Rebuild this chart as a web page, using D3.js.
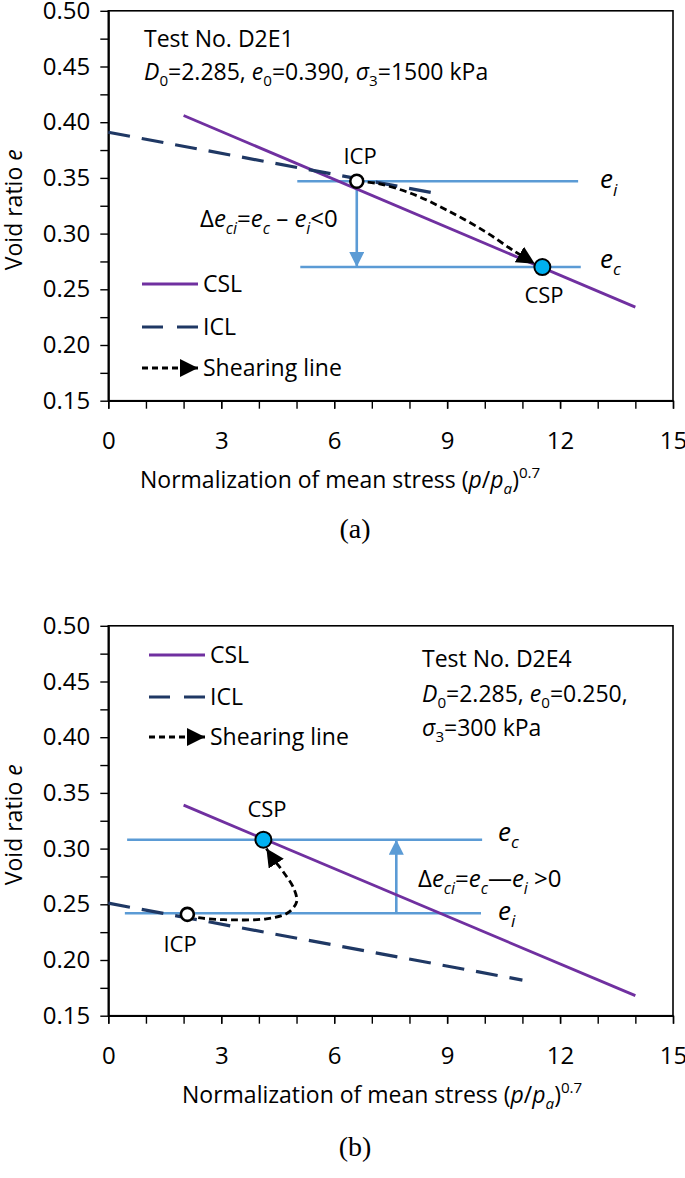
<!DOCTYPE html>
<html><head><meta charset="utf-8">
<script src="https://cdn.jsdelivr.net/npm/d3@7"></script>
<style>
body{margin:0;background:#fff}
text{font-family:"Open Sans",sans-serif;fill:#000}
</style></head><body>
<svg id="c" width="685" height="1178"></svg>
<script>
// ---------- data ----------
const xMajorTicks = [0, 3, 6, 9, 12, 15];
const xMinorTicks = d3.range(0, 16, 1);
const yMajorTicks = [0.15, 0.20, 0.25, 0.30, 0.35, 0.40, 0.45, 0.50];
const yMinorTicks = [0.175, 0.225, 0.275, 0.325, 0.375, 0.425, 0.475];

// panel (a)
const cslA = [[2.0, 0.406], [14.0, 0.234]];
const iclA = [[0.0, 0.391], [8.72, 0.336]];
const shearA = [[6.6, 0.347], [7.15, 0.345], [8.05, 0.336], [9.0, 0.321], [10.0, 0.302], [10.75, 0.285], [11.33, 0.273]];
const icpA = [6.6, 0.347];
const cspA = [11.53, 0.270];
const eiLineA = [5.02, 12.48, 0.347];
const ecLineA = [5.1, 12.55, 0.270];
const arrowA = [6.6, 0.347, 0.270];

// panel (b)
const cslB = [[2.0, 0.339], [14.0, 0.168]];
const iclB = [[0.0, 0.251], [11.0, 0.182]];
const shearB = [[2.1, 0.240], [2.5, 0.2375], [3.3, 0.236], [4.2, 0.237], [4.75, 0.242], [5.0, 0.252], [4.93, 0.264], [4.65, 0.279], [4.4, 0.290], [4.2, 0.300]];
const icpB = [2.1, 0.241];
const cspB = [4.12, 0.308];
const eiLineB = [0.44, 9.9, 0.242];
const ecLineB = [0.5, 9.93, 0.308];
const arrowB = [7.65, 0.242, 0.308];

// ---------- styles ----------
const C_CSL = "#7030A0", C_ICL = "#1F3864", C_E = "#5B9BD5", C_CSP = "#00B0F0";
const svg = d3.select("#c");
const defs = svg.append("defs");
function marker(id, color, w, h) {
  defs.append("marker").attr("id", id).attr("viewBox", "0 0 10 10")
    .attr("refX", 10).attr("refY", 5).attr("markerUnits", "userSpaceOnUse")
    .attr("markerWidth", w).attr("markerHeight", h).attr("orient", "auto")
    .append("path").attr("d", "M0,0L10,5L0,10Z").attr("fill", color);
}
marker("blk", "#000", 18, 18);
marker("blu", C_E, 18, 15);

function rich(g, x, y, parts, size, anchor) {
  const t = g.append("text").attr("x", x).attr("y", y).style("font-size", size + "px");
  if (anchor) t.attr("text-anchor", anchor);
  let shift = 0;
  parts.forEach(p => {
    const target = p.sub ? size * 0.28 : p.sup ? -size * 0.42 : 0;
    const ts = t.append("tspan").attr("dy", target - shift).text(p.t);
    shift = target;
    if (p.sub || p.sup) ts.style("font-size", (size * 0.66) + "px");
    if (p.i) ts.style("font-style", "italic");
  });
  return t;
}

function panel(top, d) {
  const L = 108.3, R = 673, T = top, B = top + 389.9;
  const x = d3.scaleLinear().domain([0, 15]).range([L, R]);
  const y = d3.scaleLinear().domain([0.15, 0.50]).range([B, T]);
  const g = svg.append("g");
  // frame
  g.append("rect").attr("x", L).attr("y", T).attr("width", R - L).attr("height", B - T)
    .attr("fill", "none").attr("stroke", "#000").attr("stroke-width", 1.6);
  // axes
  const ax = g.append("g").attr("transform", `translate(0,${B})`)
    .call(d3.axisBottom(x).tickValues(xMinorTicks).tickFormat("").tickSize(8).tickSizeOuter(0));
  const axM = g.append("g").attr("transform", `translate(0,${B})`)
    .call(d3.axisBottom(x).tickValues(xMajorTicks).tickFormat(d3.format("d")).tickSize(8).tickPadding(23).tickSizeOuter(0));
  const ay = g.append("g").attr("transform", `translate(${L},0)`)
    .call(d3.axisLeft(y).tickValues(yMinorTicks).tickFormat("").tickSize(8).tickSizeOuter(0));
  const ayM = g.append("g").attr("transform", `translate(${L},0)`)
    .call(d3.axisLeft(y).tickValues(yMajorTicks).tickFormat(d3.format(".2f")).tickSize(8).tickPadding(10).tickSizeOuter(0));
  [ax, axM, ay, ayM].forEach(a => {
    a.selectAll("path").attr("stroke", "#000").attr("stroke-width", 1.6);
    a.selectAll("line").attr("stroke", "#000").attr("stroke-width", 1.4);
    a.selectAll("text").style("font-size", "24px").style("font-family", '"Open Sans",sans-serif').attr("fill", "#000");
  });
  // axis titles
  rich(g, d.xtX, B + 87, [{t: "Normalization of mean stress ("}, {t: "p", i: 1}, {t: "/"}, {t: "p", i: 1}, {t: "a", i: 1, sub: 1}, {t: ")"}, {t: "0.7", sup: 1}], 23);
  const yt = rich(g, 0, 0, [{t: "Void ratio "}, {t: "e", i: 1}], 23, "middle");
  yt.attr("transform", `translate(22,${(T + B) / 2 + 4}) rotate(-90)`);
  g.append("text").attr("x", 355).attr("y", B + d.capDy).attr("text-anchor", "middle")
    .style("font-family", '"Liberation Serif",serif').style("font-size", "28px").text(d.cap);

  const line = d3.line().x(p => x(p[0])).y(p => y(p[1]));
  // e lines
  g.append("line").attr("x1", x(d.ei[0])).attr("x2", x(d.ei[1])).attr("y1", y(d.ei[2])).attr("y2", y(d.ei[2]))
    .attr("stroke", C_E).attr("stroke-width", 2.6);
  g.append("line").attr("x1", x(d.ec[0])).attr("x2", x(d.ec[1])).attr("y1", y(d.ec[2])).attr("y2", y(d.ec[2]))
    .attr("stroke", C_E).attr("stroke-width", 2.6);
  g.append("line").attr("x1", x(d.arrow[0])).attr("x2", x(d.arrow[0])).attr("y1", y(d.arrow[1])).attr("y2", y(d.arrow[2]))
    .attr("stroke", C_E).attr("stroke-width", 2.6).attr("marker-end", "url(#blu)");
  // CSL / ICL
  g.append("path").attr("d", line(d.csl)).attr("stroke", C_CSL).attr("stroke-width", 2.8).attr("fill", "none");
  g.append("path").attr("d", line(d.icl)).attr("stroke", C_ICL).attr("stroke-width", 3.2).attr("fill", "none")
    .attr("stroke-dasharray", "22,12");
  // shearing
  g.append("path").attr("d", d3.line().x(p => x(p[0])).y(p => y(p[1])).curve(d3.curveCatmullRom)(d.shear))
    .attr("stroke", "#000").attr("stroke-width", 2.8).attr("fill", "none").attr("stroke-dasharray", "7,4")
    .attr("marker-end", "url(#blk)");
  // points
  g.append("circle").attr("cx", x(d.icp[0])).attr("cy", y(d.icp[1])).attr("r", 6.5)
    .attr("fill", "#fff").attr("stroke", "#000").attr("stroke-width", 2.6);
  g.append("circle").attr("cx", x(d.csp[0])).attr("cy", y(d.csp[1])).attr("r", 8)
    .attr("fill", C_CSP).attr("stroke", "#000").attr("stroke-width", 2);
  // labels
  g.append("text").attr("x", d.icpLbl[0]).attr("y", d.icpLbl[1]).attr("text-anchor", "middle").style("font-size", "22px").text("ICP");
  g.append("text").attr("x", d.cspLbl[0]).attr("y", d.cspLbl[1]).attr("text-anchor", "middle").style("font-size", "22px").text("CSP");
  rich(g, d.eLblX, y(d.ei[2]) + 7, [{t: "e", i: 1}, {t: "i", i: 1, sub: 1}], 26);
  rich(g, d.eLblX, y(d.ec[2]) + 1, [{t: "e", i: 1}, {t: "c", i: 1, sub: 1}], 26);
  rich(g, d.delta[0], d.delta[1], [{t: "Δ"}, {t: "e", i: 1}, {t: "ci", i: 1, sub: 1}, {t: "="}, {t: "e", i: 1}, {t: "c", i: 1, sub: 1}, {t: d.dash}, {t: "e", i: 1}, {t: "i", i: 1, sub: 1}, {t: d.rel}], 24);
  // info text
  d.info.forEach((parts, k) => rich(g, d.infoX, d.infoY[k], parts, 23));
  // legend
  const lg = g.append("g");
  const lx0 = d.leg[0], lx1 = d.leg[0] + 56;
  lg.append("line").attr("x1", lx0).attr("x2", lx1).attr("y1", d.leg[1]).attr("y2", d.leg[1]).attr("stroke", C_CSL).attr("stroke-width", 2.8);
  lg.append("line").attr("x1", lx0).attr("x2", lx1).attr("y1", d.leg[2]).attr("y2", d.leg[2]).attr("stroke", C_ICL).attr("stroke-width", 3.2).attr("stroke-dasharray", "21,14");
  lg.append("line").attr("x1", lx0).attr("x2", lx1).attr("y1", d.leg[3]).attr("y2", d.leg[3]).attr("stroke", "#000").attr("stroke-width", 2.8).attr("stroke-dasharray", "6,4").attr("marker-end", "url(#blk)");
  [["CSL", d.leg[1]], ["ICL", d.leg[2]], ["Shearing line", d.leg[3]]].forEach(([t, yy]) =>
    lg.append("text").attr("x", lx1 + 5).attr("y", yy + 8).style("font-size", "23px").text(t));
}

panel(10.8, {
  csl: cslA, icl: iclA, shear: shearA, icp: icpA, csp: cspA, ei: eiLineA, ec: ecLineA, arrow: arrowA,
  xtX: 140, cap: "(a)", capDy: 137,
  icpLbl: [360, 164], cspLbl: [544, 303], eLblX: 600,
  delta: [200, 227], dash: " – ", rel: "<0",
  infoX: 144, infoY: [47, 80],
  info: [[{t: "Test No. D2E1"}],
         [{t: "D", i: 1}, {t: "0", sub: 1}, {t: "=2.285, "}, {t: "e", i: 1}, {t: "0", sub: 1}, {t: "=0.390, "}, {t: "σ", i: 1}, {t: "3", sub: 1}, {t: "=1500 kPa"}]],
  leg: [142, 284, 327, 368]
});
panel(625.8, {
  csl: cslB, icl: iclB, shear: shearB, icp: icpB, csp: cspB, ei: eiLineB, ec: ecLineB, arrow: arrowB,
  xtX: 182, cap: "(b)", capDy: 140,
  icpLbl: [180, 952], cspLbl: [267, 817], eLblX: 498,
  delta: [418, 887], dash: "—", rel: " >0",
  infoX: 422, infoY: [667, 702, 736],
  info: [[{t: "Test No. D2E4"}],
         [{t: "D", i: 1}, {t: "0", sub: 1}, {t: "=2.285, "}, {t: "e", i: 1}, {t: "0", sub: 1}, {t: "=0.250,"}],
         [{t: "σ", i: 1}, {t: "3", sub: 1}, {t: "=300 kPa"}]],
  leg: [149, 655, 697, 737]
});
</script></body></html>
